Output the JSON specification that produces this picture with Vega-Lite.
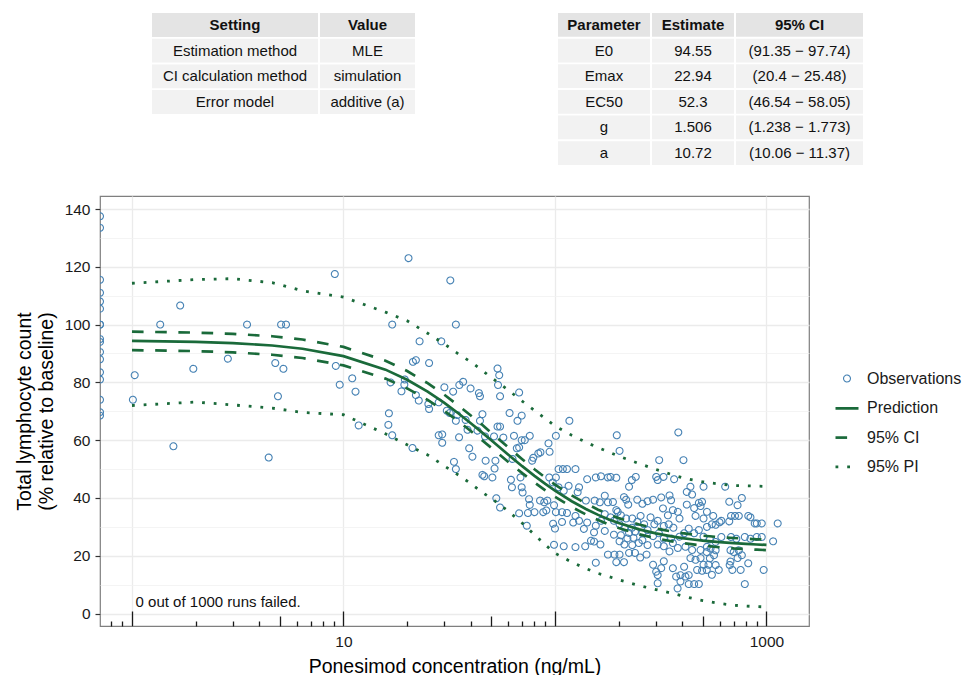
{
  "$schema": "https://vega.github.io/schema/vega-lite/v6.json",
  "padding": {"left": 13, "top": 12, "right": 0, "bottom": 0},
  "background": "white",
  "spacing": 30,
  "config": {
    "font": "Liberation Sans",
    "view": {"stroke": null}
  },
  "datasets": {
    "settings": [
      {"row": 0, "kind": "header", "setting": "Setting", "value": "Value"},
      {"row": 1, "kind": "body", "setting": "Estimation method", "value": "MLE"},
      {"row": 2, "kind": "body", "setting": "CI calculation method", "value": "simulation"},
      {"row": 3, "kind": "body", "setting": "Error model", "value": "additive (a)"}
    ],
    "params": [
      {"row": 0, "kind": "header", "parameter": "Parameter", "estimate": "Estimate", "ci": "95% CI"},
      {"row": 1, "kind": "body", "parameter": "E0", "estimate": "94.55", "ci": "(91.35 − 97.74)"},
      {"row": 2, "kind": "body", "parameter": "Emax", "estimate": "22.94", "ci": "(20.4 − 25.48)"},
      {"row": 3, "kind": "body", "parameter": "EC50", "estimate": "52.3", "ci": "(46.54 − 58.05)"},
      {"row": 4, "kind": "body", "parameter": "g", "estimate": "1.506", "ci": "(1.238 − 1.773)"},
      {"row": 5, "kind": "body", "parameter": "a", "estimate": "10.72", "ci": "(10.06 − 11.37)"}
    ],
    "note": [
      {"conc": 1.04, "lc": 4, "label": "0 out of 1000 runs failed."}
    ],
    "curve": [
      {"conc": 1, "pred": 94.37, "ci_lo": 91.17, "ci_hi": 97.57, "pi_lo": 72.0, "pi_hi": 114.3},
      {"conc": 2, "pred": 94.03, "ci_lo": 90.83, "ci_hi": 97.23, "pi_lo": 73.2, "pi_hi": 115.6},
      {"conc": 3, "pred": 93.6, "ci_lo": 90.4, "ci_hi": 96.8, "pi_lo": 72.2, "pi_hi": 115.9},
      {"conc": 4.6, "pred": 92.76, "ci_lo": 89.56, "ci_hi": 95.96, "pi_lo": 71.1, "pi_hi": 114.5},
      {"conc": 6.4, "pred": 91.65, "ci_lo": 88.45, "ci_hi": 94.85, "pi_lo": 69.6, "pi_hi": 111.7},
      {"conc": 10, "pred": 89.07, "ci_lo": 85.87, "ci_hi": 92.27, "pi_lo": 68.8, "pi_hi": 109.5},
      {"conc": 15.8, "pred": 84.41, "ci_lo": 81.31, "ci_hi": 87.51, "pi_lo": 62.2, "pi_hi": 104.3},
      {"conc": 20, "pred": 80.92, "ci_lo": 77.92, "ci_hi": 83.92, "pi_lo": 58.4, "pi_hi": 101.3},
      {"conc": 25, "pred": 76.82, "ci_lo": 73.92, "ci_hi": 79.72, "pi_lo": 54.9, "pi_hi": 97.0},
      {"conc": 30, "pred": 72.91, "ci_lo": 70.11, "ci_hi": 75.71, "pi_lo": 51.1, "pi_hi": 93.3},
      {"conc": 35, "pred": 69.25, "ci_lo": 66.55, "ci_hi": 71.95, "pi_lo": 47.9, "pi_hi": 89.8},
      {"conc": 40, "pred": 65.86, "ci_lo": 63.16, "ci_hi": 68.56, "pi_lo": 45.0, "pi_hi": 87.1},
      {"conc": 45, "pred": 62.78, "ci_lo": 60.08, "ci_hi": 65.48, "pi_lo": 42.1, "pi_hi": 84.3},
      {"conc": 50, "pred": 59.96, "ci_lo": 57.36, "ci_hi": 62.56, "pi_lo": 39.9, "pi_hi": 81.7},
      {"conc": 60, "pred": 55.06, "ci_lo": 52.56, "ci_hi": 57.56, "pi_lo": 35.5, "pi_hi": 77.4},
      {"conc": 70, "pred": 51.01, "ci_lo": 48.61, "ci_hi": 53.41, "pi_lo": 31.3, "pi_hi": 73.5},
      {"conc": 80, "pred": 47.66, "ci_lo": 45.36, "ci_hi": 49.96, "pi_lo": 27.3, "pi_hi": 70.3},
      {"conc": 90, "pred": 44.87, "ci_lo": 42.67, "ci_hi": 47.07, "pi_lo": 23.8, "pi_hi": 67.5},
      {"conc": 100, "pred": 42.54, "ci_lo": 40.44, "ci_hi": 44.64, "pi_lo": 20.9, "pi_hi": 64.9},
      {"conc": 120, "pred": 38.88, "ci_lo": 36.88, "ci_hi": 40.88, "pi_lo": 17.8, "pi_hi": 61.7},
      {"conc": 140, "pred": 36.19, "ci_lo": 34.29, "ci_hi": 38.09, "pi_lo": 15.6, "pi_hi": 59.3},
      {"conc": 160, "pred": 34.15, "ci_lo": 32.35, "ci_hi": 35.95, "pi_lo": 13.9, "pi_hi": 57.4},
      {"conc": 180, "pred": 32.57, "ci_lo": 30.77, "ci_hi": 34.37, "pi_lo": 12.8, "pi_hi": 55.9},
      {"conc": 200, "pred": 31.33, "ci_lo": 29.63, "ci_hi": 33.03, "pi_lo": 11.7, "pi_hi": 54.5},
      {"conc": 250, "pred": 29.14, "ci_lo": 27.44, "ci_hi": 30.84, "pi_lo": 9.7, "pi_hi": 51.9},
      {"conc": 300, "pred": 27.75, "ci_lo": 26.05, "ci_hi": 29.45, "pi_lo": 8.3, "pi_hi": 49.9},
      {"conc": 350, "pred": 26.81, "ci_lo": 25.11, "ci_hi": 28.51, "pi_lo": 7.2, "pi_hi": 48.3},
      {"conc": 400, "pred": 26.13, "ci_lo": 24.43, "ci_hi": 27.83, "pi_lo": 6.1, "pi_hi": 47.0},
      {"conc": 450, "pred": 25.64, "ci_lo": 23.94, "ci_hi": 27.34, "pi_lo": 5.2, "pi_hi": 46.2},
      {"conc": 500, "pred": 25.25, "ci_lo": 23.55, "ci_hi": 26.95, "pi_lo": 4.5, "pi_hi": 45.6},
      {"conc": 600, "pred": 24.71, "ci_lo": 22.96, "ci_hi": 26.46, "pi_lo": 3.5, "pi_hi": 44.8},
      {"conc": 700, "pred": 24.35, "ci_lo": 22.55, "ci_hi": 26.15, "pi_lo": 2.9, "pi_hi": 44.3},
      {"conc": 800, "pred": 24.1, "ci_lo": 22.3, "ci_hi": 25.9, "pi_lo": 2.6, "pi_hi": 44.2},
      {"conc": 900, "pred": 23.91, "ci_lo": 22.11, "ci_hi": 25.71, "pi_lo": 2.4, "pi_hi": 44.1},
      {"conc": 1000, "pred": 23.77, "ci_lo": 21.97, "ci_hi": 25.57, "pi_lo": 2.3, "pi_hi": 44.0}
    ],
    "obs": [
      {"conc": 0.706, "lc": 137.5}, {"conc": 0.706, "lc": 133.5}, {"conc": 0.706, "lc": 115.5}, {"conc": 0.706, "lc": 111}, {"conc": 0.706, "lc": 108}, {"conc": 0.706, "lc": 105.5}, {"conc": 0.706, "lc": 100}, {"conc": 0.706, "lc": 100}, {"conc": 0.706, "lc": 95}, {"conc": 0.706, "lc": 94}, {"conc": 0.706, "lc": 90.5}, {"conc": 0.706, "lc": 88}, {"conc": 0.706, "lc": 83.5}, {"conc": 0.706, "lc": 81}, {"conc": 0.706, "lc": 74}, {"conc": 0.706, "lc": 69.7}, {"conc": 0.706, "lc": 68.5},
      {"conc": 1.01, "lc": 74}, {"conc": 1.03, "lc": 82.5}, {"conc": 1.36, "lc": 100}, {"conc": 1.69, "lc": 106.6}, {"conc": 1.95, "lc": 84.7}, {"conc": 1.57, "lc": 57.9}, {"conc": 2.84, "lc": 88.2}, {"conc": 3.5, "lc": 100}, {"conc": 4.76, "lc": 86.7}, {"conc": 5.2, "lc": 84.7}, {"conc": 5.07, "lc": 100}, {"conc": 5.35, "lc": 100}, {"conc": 4.9, "lc": 75.2}, {"conc": 4.43, "lc": 54}, {"conc": 9.1, "lc": 117.5}, {"conc": 9.2, "lc": 85.7}, {"conc": 9.6, "lc": 79.2}, {"conc": 11, "lc": 81.4}, {"conc": 11.4, "lc": 76.8}, {"conc": 11.8, "lc": 65.1}, {"conc": 20.3, "lc": 123}, {"conc": 17, "lc": 100}, {"conc": 16.7, "lc": 80}, {"conc": 16.4, "lc": 69.3}, {"conc": 16.3, "lc": 65.3}, {"conc": 17, "lc": 61.7}, {"conc": 21.2, "lc": 57.3}, {"conc": 18.8, "lc": 76.9}, {"conc": 19.5, "lc": 81}, {"conc": 19.4, "lc": 79.2}, {"conc": 22.9, "lc": 94.2}, {"conc": 21.3, "lc": 87.1}, {"conc": 22, "lc": 87.7}, {"conc": 25.4, "lc": 86.7}, {"conc": 29, "lc": 94.2}, {"conc": 32, "lc": 115.3}, {"conc": 30, "lc": 78.3}, {"conc": 22, "lc": 75.6}, {"conc": 22.7, "lc": 73.7}, {"conc": 25.2, "lc": 72.5}, {"conc": 25.4, "lc": 70.8}, {"conc": 28.2, "lc": 73.1}, {"conc": 28.2, "lc": 61.7}, {"conc": 29.3, "lc": 62}, {"conc": 29.3, "lc": 59.1}, {"conc": 34, "lc": 100},
      {"conc": 53.5, "lc": 84.8}, {"conc": 54.5, "lc": 82.5}, {"conc": 53.8, "lc": 79.1}, {"conc": 55, "lc": 75.2}, {"conc": 67.7, "lc": 76.5}, {"conc": 33, "lc": 76.8}, {"conc": 35.3, "lc": 79.1}, {"conc": 36.8, "lc": 80.2}, {"conc": 39.9, "lc": 77.9}, {"conc": 43.7, "lc": 76.3}, {"conc": 44.2, "lc": 75.2}, {"conc": 30.8, "lc": 70.2}, {"conc": 31.8, "lc": 69.4}, {"conc": 34, "lc": 66.7}, {"conc": 34.5, "lc": 68.7}, {"conc": 37.8, "lc": 67}, {"conc": 38.6, "lc": 63.6}, {"conc": 35.2, "lc": 61}, {"conc": 43, "lc": 63.3}, {"conc": 44.2, "lc": 66.7}, {"conc": 45.4, "lc": 69}, {"conc": 39.3, "lc": 57.2}, {"conc": 40.7, "lc": 54.3}, {"conc": 33.3, "lc": 52.5}, {"conc": 34, "lc": 50}, {"conc": 46.7, "lc": 61.3}, {"conc": 51.5, "lc": 61.3}, {"conc": 53.5, "lc": 64.7}, {"conc": 55, "lc": 64.7}, {"conc": 61, "lc": 69.4}, {"conc": 66.5, "lc": 66.7}, {"conc": 69.6, "lc": 68.5}, {"conc": 57, "lc": 60.9}, {"conc": 64, "lc": 61.5}, {"conc": 69.6, "lc": 60}, {"conc": 72, "lc": 60}, {"conc": 76, "lc": 61.5}, {"conc": 66, "lc": 57.2}, {"conc": 67.7, "lc": 57.5}, {"conc": 63, "lc": 53.5}, {"conc": 47, "lc": 52.9}, {"conc": 52.3, "lc": 52.9}, {"conc": 51.8, "lc": 50.2}, {"conc": 45.4, "lc": 48}, {"conc": 46.3, "lc": 47.5}, {"conc": 50.6, "lc": 47.1}, {"conc": 61.9, "lc": 46.3}, {"conc": 62.6, "lc": 43.7}, {"conc": 69.6, "lc": 43.7}, {"conc": 70.3, "lc": 41.9}, {"conc": 68.7, "lc": 47.1}, {"conc": 52.8, "lc": 39.9}, {"conc": 55, "lc": 36.7}, {"conc": 67.7, "lc": 34.7}, {"conc": 74.5, "lc": 34.8}, {"conc": 76, "lc": 37.6}, {"conc": 73.6, "lc": 30.4}, {"conc": 75.4, "lc": 39.6}, {"conc": 79, "lc": 53.9}, {"conc": 83.4, "lc": 55.4}, {"conc": 85.4, "lc": 55.8}, {"conc": 93.2, "lc": 58.9}, {"conc": 94.3, "lc": 56}, {"conc": 101, "lc": 61.5}, {"conc": 117, "lc": 66.7}, {"conc": 78, "lc": 52.9}, {"conc": 104, "lc": 50}, {"conc": 109, "lc": 50}, {"conc": 114, "lc": 50}, {"conc": 125, "lc": 50}, {"conc": 94, "lc": 47.1}, {"conc": 101, "lc": 47.1}, {"conc": 97.6, "lc": 45.4}, {"conc": 104, "lc": 43.7}, {"conc": 110, "lc": 42.5}, {"conc": 116, "lc": 44.2}, {"conc": 130, "lc": 43.7}, {"conc": 128, "lc": 42}, {"conc": 142, "lc": 46.5}, {"conc": 156, "lc": 47.1}, {"conc": 165, "lc": 47.5}, {"conc": 178, "lc": 47.1}, {"conc": 140, "lc": 39.1}, {"conc": 154, "lc": 39.1}, {"conc": 163, "lc": 38.5}, {"conc": 172, "lc": 40.8}, {"conc": 178, "lc": 38.5}, {"conc": 85, "lc": 39.1}, {"conc": 89, "lc": 38.5}, {"conc": 92, "lc": 39.1}, {"conc": 88, "lc": 35.1}, {"conc": 91, "lc": 35.7}, {"conc": 80, "lc": 35.1}, {"conc": 99, "lc": 37.5}, {"conc": 101, "lc": 35.1}, {"conc": 108, "lc": 35.1}, {"conc": 114, "lc": 34.8}, {"conc": 125, "lc": 33.8}, {"conc": 130, "lc": 32.1}, {"conc": 122, "lc": 31.5}, {"conc": 98, "lc": 31.1}, {"conc": 100, "lc": 29.4}, {"conc": 108, "lc": 31.7}, {"conc": 142, "lc": 31.5}, {"conc": 137, "lc": 29.3}, {"conc": 156, "lc": 30.4}, {"conc": 165, "lc": 32.1}, {"conc": 172, "lc": 34.4}, {"conc": 153, "lc": 28.1}, {"conc": 172, "lc": 28.6}, {"conc": 148, "lc": 25.2}, {"conc": 153, "lc": 24.9}, {"conc": 110, "lc": 23.3}, {"conc": 125, "lc": 23}, {"conc": 139, "lc": 23.3}, {"conc": 99, "lc": 23.8}, {"conc": 156, "lc": 17.6},
      {"conc": 183, "lc": 47.3}, {"conc": 195, "lc": 47}, {"conc": 224, "lc": 43.9}, {"conc": 231, "lc": 46.2}, {"conc": 241, "lc": 47.3}, {"conc": 301, "lc": 47.3}, {"conc": 306, "lc": 46.2}, {"conc": 326, "lc": 47.3}, {"conc": 366, "lc": 46.5}, {"conc": 437, "lc": 43.9}, {"conc": 445, "lc": 41.2}, {"conc": 420, "lc": 42.1},
      {"conc": 188, "lc": 38.6}, {"conc": 195, "lc": 35.8}, {"conc": 198, "lc": 35.2}, {"conc": 212, "lc": 40.3}, {"conc": 217, "lc": 39.4}, {"conc": 222, "lc": 37.7},
      {"conc": 245, "lc": 39.4}, {"conc": 259, "lc": 38}, {"conc": 274, "lc": 38.9}, {"conc": 291, "lc": 39.4}, {"conc": 318, "lc": 40.2}, {"conc": 348, "lc": 40.9}, {"conc": 354, "lc": 39.2},
      {"conc": 324, "lc": 36.4}, {"conc": 342, "lc": 34}, {"conc": 361, "lc": 35.8}, {"conc": 381, "lc": 35.2}, {"conc": 388, "lc": 32.9},
      {"conc": 420, "lc": 37.7}, {"conc": 455, "lc": 36.5}, {"conc": 479, "lc": 38.3}, {"conc": 488, "lc": 37.2}, {"conc": 462, "lc": 33.8}, {"conc": 504, "lc": 32.9}, {"conc": 523, "lc": 35.2},
      {"conc": 254, "lc": 33.8}, {"conc": 283, "lc": 33.3}, {"conc": 264, "lc": 30.9}, {"conc": 295, "lc": 30.9}, {"conc": 306, "lc": 32.1}, {"conc": 327, "lc": 30.3}, {"conc": 345, "lc": 30.9}, {"conc": 363, "lc": 29.7},
      {"conc": 183, "lc": 33.3}, {"conc": 190, "lc": 32.1}, {"conc": 202, "lc": 30.9}, {"conc": 213, "lc": 29.7}, {"conc": 224, "lc": 27.9}, {"conc": 231, "lc": 29.7}, {"conc": 235, "lc": 26.2}, {"conc": 249, "lc": 24.4},
      {"conc": 164, "lc": 23.9}, {"conc": 190, "lc": 27.3}, {"conc": 202, "lc": 25}, {"conc": 213, "lc": 23.9},
      {"conc": 178, "lc": 20.4}, {"conc": 191, "lc": 20.4}, {"conc": 202, "lc": 20.4}, {"conc": 195, "lc": 17.8}, {"conc": 212, "lc": 17.8}, {"conc": 224, "lc": 21},
      {"conc": 239, "lc": 21}, {"conc": 253, "lc": 19.4}, {"conc": 271, "lc": 20.4}, {"conc": 291, "lc": 16.9}, {"conc": 301, "lc": 14.5}, {"conc": 306, "lc": 13.3}, {"conc": 318, "lc": 15.7}, {"conc": 327, "lc": 18.1},
      {"conc": 291, "lc": 26.8}, {"conc": 306, "lc": 23.9}, {"conc": 327, "lc": 23.3}, {"conc": 348, "lc": 21.5}, {"conc": 361, "lc": 24.4}, {"conc": 381, "lc": 22.7},
      {"conc": 361, "lc": 15.7}, {"conc": 374, "lc": 12.8}, {"conc": 392, "lc": 13.3}, {"conc": 414, "lc": 12.8}, {"conc": 429, "lc": 13.3}, {"conc": 408, "lc": 16.2},
      {"conc": 437, "lc": 19.2}, {"conc": 462, "lc": 18.6}, {"conc": 488, "lc": 19.2}, {"conc": 504, "lc": 16.9}, {"conc": 532, "lc": 16.9}, {"conc": 470, "lc": 15.1}, {"conc": 496, "lc": 14.8},
      {"conc": 429, "lc": 10.2}, {"conc": 455, "lc": 10.2}, {"conc": 479, "lc": 10.2}, {"conc": 392, "lc": 11.1}, {"conc": 380, "lc": 8.7}, {"conc": 306, "lc": 10.5},
      {"conc": 205, "lc": 34}, {"conc": 217, "lc": 32.9}, {"conc": 232, "lc": 32.9}, {"conc": 245, "lc": 31.7}, {"conc": 205, "lc": 27.1}, {"conc": 220, "lc": 26}, {"conc": 232, "lc": 23.7}, {"conc": 259, "lc": 25.4}, {"conc": 274, "lc": 23.7}, {"conc": 239, "lc": 28.3}, {"conc": 259, "lc": 27.8}, {"conc": 274, "lc": 28.9}, {"conc": 310, "lc": 27.8}, {"conc": 327, "lc": 26}, {"conc": 354, "lc": 26}, {"conc": 388, "lc": 26.6}, {"conc": 408, "lc": 27.8}, {"conc": 429, "lc": 29.4}, {"conc": 455, "lc": 27.8}, {"conc": 479, "lc": 28.9}, {"conc": 504, "lc": 26.6}, {"conc": 523, "lc": 30}, {"conc": 414, "lc": 23.1}, {"conc": 445, "lc": 22}, {"conc": 488, "lc": 22}, {"conc": 523, "lc": 23.1},
      {"conc": 196, "lc": 61.7}, {"conc": 383, "lc": 62.7}, {"conc": 202, "lc": 56.3}, {"conc": 311, "lc": 53.1}, {"conc": 405, "lc": 53.1},
      {"conc": 504, "lc": 43.9}, {"conc": 638, "lc": 43.9}, {"conc": 667, "lc": 38.7}, {"conc": 730, "lc": 37.5}, {"conc": 765, "lc": 40}, {"conc": 496, "lc": 38.7},
      {"conc": 560, "lc": 33.8}, {"conc": 552, "lc": 30.9}, {"conc": 575, "lc": 30.7}, {"conc": 600, "lc": 31.6}, {"conc": 612, "lc": 32.1}, {"conc": 667, "lc": 31.9}, {"conc": 680, "lc": 33.8}, {"conc": 710, "lc": 33.8}, {"conc": 740, "lc": 33.8}, {"conc": 820, "lc": 33.8}, {"conc": 840, "lc": 33.3}, {"conc": 880, "lc": 31.2}, {"conc": 900, "lc": 31.2}, {"conc": 950, "lc": 31.2}, {"conc": 1130, "lc": 31.2},
      {"conc": 540, "lc": 25.7}, {"conc": 575, "lc": 24.8}, {"conc": 612, "lc": 26.5}, {"conc": 680, "lc": 26.5}, {"conc": 720, "lc": 25.9}, {"conc": 790, "lc": 26.5}, {"conc": 840, "lc": 25.9}, {"conc": 900, "lc": 26.5}, {"conc": 950, "lc": 26.5}, {"conc": 1075, "lc": 25},
      {"conc": 522, "lc": 21.3}, {"conc": 544, "lc": 22.5}, {"conc": 575, "lc": 21.9}, {"conc": 565, "lc": 20.2}, {"conc": 540, "lc": 19.1}, {"conc": 522, "lc": 15.1}, {"conc": 575, "lc": 16.8}, {"conc": 595, "lc": 15.1}, {"conc": 552, "lc": 13.4},
      {"conc": 676, "lc": 21.9}, {"conc": 700, "lc": 21.3}, {"conc": 740, "lc": 21.9}, {"conc": 765, "lc": 20.2}, {"conc": 730, "lc": 19.2}, {"conc": 676, "lc": 18}, {"conc": 670, "lc": 16.8}, {"conc": 690, "lc": 15.1}, {"conc": 755, "lc": 15.1}, {"conc": 820, "lc": 17.4}, {"conc": 970, "lc": 15.1},
      {"conc": 790, "lc": 10.2}
    ]
  },
  "vconcat": [
    {
      "spacing": 2,
      "hconcat": [
        {"width": 50, "height": 10, "data": {"values": [{}]}, "mark": {"type": "text"}, "encoding": {"text": {"value": ""}}},
        {
          "width": 166, "height": 101,
          "data": {"name": "settings"},
          "encoding": {"y": {"field": "row", "type": "ordinal", "axis": null, "scale": {"paddingInner": 0.07, "paddingOuter": 0}}},
          "layer": [
            {"mark": {"type": "rect"}, "encoding": {"fill": {"field": "kind", "type": "nominal", "scale": {"domain": ["header", "body"], "range": ["#e4e4e4", "#f2f2f2"]}, "legend": null}}},
            {"transform": [{"filter": "datum.kind === 'header'"}], "mark": {"type": "text", "fontSize": 15, "fontWeight": "bold", "color": "#111111"}, "encoding": {"text": {"field": "setting"}}},
            {"transform": [{"filter": "datum.kind === 'body'"}], "mark": {"type": "text", "fontSize": 15, "color": "#111111"}, "encoding": {"text": {"field": "setting"}}}
          ]
        },
        {
          "width": 95, "height": 101,
          "data": {"name": "settings"},
          "encoding": {"y": {"field": "row", "type": "ordinal", "axis": null, "scale": {"paddingInner": 0.07, "paddingOuter": 0}}},
          "layer": [
            {"mark": {"type": "rect"}, "encoding": {"fill": {"field": "kind", "type": "nominal", "scale": {"domain": ["header", "body"], "range": ["#e4e4e4", "#f2f2f2"]}, "legend": null}}},
            {"transform": [{"filter": "datum.kind === 'header'"}], "mark": {"type": "text", "fontSize": 15, "fontWeight": "bold", "color": "#111111"}, "encoding": {"text": {"field": "value"}}},
            {"transform": [{"filter": "datum.kind === 'body'"}], "mark": {"type": "text", "fontSize": 15, "color": "#111111"}, "encoding": {"text": {"field": "value"}}}
          ]
        },
        {"width": 139, "height": 10, "data": {"values": [{}]}, "mark": {"type": "text"}, "encoding": {"text": {"value": ""}}},
        {
          "width": 92, "height": 152,
          "data": {"name": "params"},
          "encoding": {"y": {"field": "row", "type": "ordinal", "axis": null, "scale": {"paddingInner": 0.07, "paddingOuter": 0}}},
          "layer": [
            {"mark": {"type": "rect"}, "encoding": {"fill": {"field": "kind", "type": "nominal", "scale": {"domain": ["header", "body"], "range": ["#e4e4e4", "#f2f2f2"]}, "legend": null}}},
            {"transform": [{"filter": "datum.kind === 'header'"}], "mark": {"type": "text", "fontSize": 15, "fontWeight": "bold", "color": "#111111"}, "encoding": {"text": {"field": "parameter"}}},
            {"transform": [{"filter": "datum.kind === 'body'"}], "mark": {"type": "text", "fontSize": 15, "color": "#111111"}, "encoding": {"text": {"field": "parameter"}}}
          ]
        },
        {
          "width": 82, "height": 152,
          "data": {"name": "params"},
          "encoding": {"y": {"field": "row", "type": "ordinal", "axis": null, "scale": {"paddingInner": 0.07, "paddingOuter": 0}}},
          "layer": [
            {"mark": {"type": "rect"}, "encoding": {"fill": {"field": "kind", "type": "nominal", "scale": {"domain": ["header", "body"], "range": ["#e4e4e4", "#f2f2f2"]}, "legend": null}}},
            {"transform": [{"filter": "datum.kind === 'header'"}], "mark": {"type": "text", "fontSize": 15, "fontWeight": "bold", "color": "#111111"}, "encoding": {"text": {"field": "estimate"}}},
            {"transform": [{"filter": "datum.kind === 'body'"}], "mark": {"type": "text", "fontSize": 15, "color": "#111111"}, "encoding": {"text": {"field": "estimate"}}}
          ]
        },
        {
          "width": 127, "height": 152,
          "data": {"name": "params"},
          "encoding": {"y": {"field": "row", "type": "ordinal", "axis": null, "scale": {"paddingInner": 0.07, "paddingOuter": 0}}},
          "layer": [
            {"mark": {"type": "rect"}, "encoding": {"fill": {"field": "kind", "type": "nominal", "scale": {"domain": ["header", "body"], "range": ["#e4e4e4", "#f2f2f2"]}, "legend": null}}},
            {"transform": [{"filter": "datum.kind === 'header'"}], "mark": {"type": "text", "fontSize": 15, "fontWeight": "bold", "color": "#111111"}, "encoding": {"text": {"field": "ci"}}},
            {"transform": [{"filter": "datum.kind === 'body'"}], "mark": {"type": "text", "fontSize": 15, "color": "#111111"}, "encoding": {"text": {"field": "ci"}}}
          ]
        }
      ]
    },
    {
      "width": 709,
      "height": 430,
      "view": {"stroke": "#7f7f7f", "strokeWidth": 1.2},
      "resolve": {"axis": {"x": "independent", "y": "independent"}},
      "layer": [
        {
          "data": {"name": "obs"},
          "mark": {"type": "point", "filled": false, "size": 529, "clip": true, "opacity": 1},
          "encoding": {
            "x": {
              "field": "conc", "type": "quantitative",
              "scale": {"type": "log", "domain": [0.706, 1589], "nice": false},
              "axis": {
                "orient": "bottom", "values": [1, 10, 100, 1000],
                "title": "Ponesimod concentration (ng/mL)", "titleFontSize": 19.5, "titleFontWeight": "normal", "titleColor": "#000000", "titlePadding": 7,
                "labelExpr": "datum.value == 10 ? '10' : datum.value == 1000 ? '1000' : ''",
                "labelFontSize": 15.5, "labelColor": "#1a1a1a", "labelPadding": 23.5, "labelFlush": false, "labelOverlap": false,
                "tickSize": -15, "tickColor": "#1a1a1a", "tickWidth": 1.3,
                "domain": false, "grid": true, "gridColor": "#ebebeb", "gridWidth": 1.3
              }
            },
            "y": {
              "field": "lc", "type": "quantitative",
              "scale": {"domain": [-4.3, 144.5], "nice": false, "zero": false},
              "axis": {
                "orient": "left", "values": [0, 20, 40, 60, 80, 100, 120, 140],
                "title": ["Total lymphocyte count", "(% relative to baseline)"], "titleFontSize": 19.5, "titleFontWeight": "normal", "titleColor": "#000000", "titleLineHeight": 22, "titlePadding": 8,
                "labelFontSize": 15.5, "labelColor": "#1a1a1a", "labelPadding": 5, "labelFlush": false,
                "tickSize": 5, "tickColor": "#333333", "tickWidth": 1.2,
                "domain": false, "grid": true, "gridColor": "#ebebeb", "gridWidth": 1.3
              }
            },
            "color": {
              "datum": "Observations", "type": "nominal",
              "scale": {"domain": ["Observations", "Prediction", "95% CI", "95% PI"], "range": ["#4682b4", "#1a6a3a", "#1a6a3a", "#1a6a3a"]},
              "legend": {"title": null, "orient": "none", "legendX": 734, "legendY": 353, "symbolSize": 529, "labelFontSize": 16, "labelColor": "#1a1a1a", "labelOffset": 7, "rowPadding": 8.3, "padding": 0, "labelLimit": 0, "symbolFillColor": "transparent"}
            },
            "shape": {
              "datum": "Observations", "type": "nominal",
              "scale": {"type": "ordinal", "domain": ["Observations", "Prediction", "95% CI", "95% PI"], "range": ["M-0.3,0A0.3,0.3 0 1,1 0.3,0A0.3,0.3 0 1,1 -0.3,0Z", "stroke", "stroke", "stroke"]},
              "legend": {"title": null}
            },
            "strokeDash": {
              "datum": "Observations", "type": "nominal",
              "scale": {"type": "ordinal", "domain": ["Observations", "Prediction", "95% CI", "95% PI"], "range": [[1, 0], [1, 0], [11.6, 11.6], [2.8, 8.9]]},
              "legend": {"title": null}
            },
            "strokeWidth": {
              "datum": "Observations", "type": "nominal",
              "scale": {"type": "ordinal", "domain": ["Observations", "Prediction", "95% CI", "95% PI"], "range": [1.1, 2.7, 2.7, 2.7]},
              "legend": {"title": null}
            }
          }
        },
        {
          "data": {"name": "curve"},
          "mark": {"type": "line", "color": "#1a6a3a", "strokeWidth": 2.7, "clip": true},
          "encoding": {
            "x": {"field": "conc", "type": "quantitative", "axis": {"orient": "bottom", "values": [5, 50, 500], "labels": false, "grid": false, "domain": false, "tickSize": -10, "tickColor": "#1a1a1a", "tickWidth": 1.3, "title": null}},
            "y": {"field": "pred", "type": "quantitative", "axis": {"orient": "left", "values": [10, 30, 50, 70, 90, 110, 130], "labels": false, "ticks": false, "domain": false, "grid": true, "gridColor": "#f1f1f1", "gridWidth": 0.8, "title": null}}
          }
        },
        {
          "data": {"name": "curve"},
          "mark": {"type": "line", "color": "#1a6a3a", "strokeWidth": 2.7, "strokeDash": [11.6, 11.6], "clip": true},
          "encoding": {
            "x": {"field": "conc", "type": "quantitative", "axis": {"orient": "bottom", "values": [0.8, 0.9, 2, 3, 4, 6, 7, 8, 9, 20, 30, 40, 60, 70, 80, 90, 200, 300, 400, 600, 700, 800, 900], "labels": false, "grid": false, "domain": false, "tickSize": -5, "tickColor": "#1a1a1a", "tickWidth": 1.3, "title": null}},
            "y": {"field": "ci_hi", "type": "quantitative", "axis": null}
          }
        },
        {
          "data": {"name": "curve"},
          "mark": {"type": "line", "color": "#1a6a3a", "strokeWidth": 2.7, "strokeDash": [11.6, 11.6], "clip": true},
          "encoding": {
            "x": {"field": "conc", "type": "quantitative", "axis": null},
            "y": {"field": "ci_lo", "type": "quantitative", "axis": null}
          }
        },
        {
          "data": {"name": "curve"},
          "mark": {"type": "line", "color": "#1a6a3a", "strokeWidth": 2.8, "strokeDash": [2.8, 8.9], "clip": true},
          "encoding": {
            "x": {"field": "conc", "type": "quantitative", "axis": null},
            "y": {"field": "pi_hi", "type": "quantitative", "axis": null}
          }
        },
        {
          "data": {"name": "curve"},
          "mark": {"type": "line", "color": "#1a6a3a", "strokeWidth": 2.8, "strokeDash": [2.8, 8.9], "clip": true},
          "encoding": {
            "x": {"field": "conc", "type": "quantitative", "axis": null},
            "y": {"field": "pi_lo", "type": "quantitative", "axis": null}
          }
        },
        {
          "data": {"name": "note"},
          "mark": {"type": "text", "align": "left", "baseline": "middle", "fontSize": 15, "color": "#111111"},
          "encoding": {
            "x": {"field": "conc", "type": "quantitative", "axis": null},
            "y": {"field": "lc", "type": "quantitative", "axis": null},
            "text": {"field": "label"}
          }
        }
      ]
    }
  ]
}
